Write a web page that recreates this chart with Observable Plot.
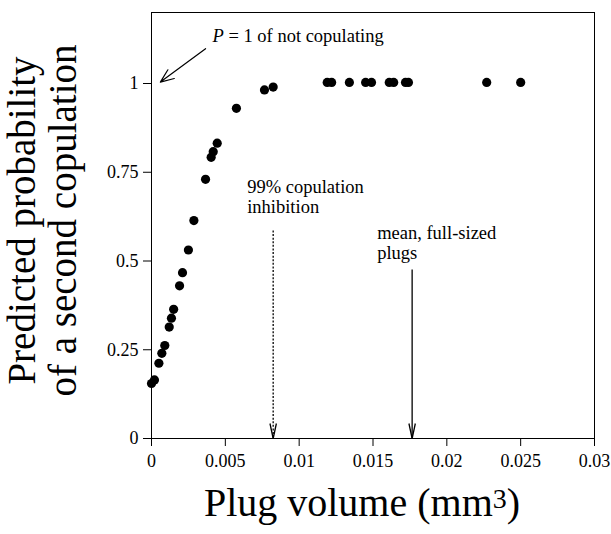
<!DOCTYPE html>
<html><head><meta charset="utf-8">
<script src="https://cdn.jsdelivr.net/npm/d3@7"></script>
<script src="https://cdn.jsdelivr.net/npm/@observablehq/plot@0.6"></script>
<style>
html,body{margin:0;padding:0;background:#fff}
svg{display:block}
svg text{font-family:"Liberation Serif",serif !important}
</style>
</head><body><div id="chart"></div>
<script>
// ---- data ----
const plugVolume = [0.0000, 0.0002, 0.0005, 0.0007, 0.0009, 0.0012, 0.00135, 0.0015, 0.0019, 0.0021,
  0.0025, 0.00287, 0.00366, 0.00404, 0.00418, 0.00445, 0.00575, 0.00765, 0.00824,
  0.0119, 0.0122, 0.0134, 0.0145, 0.0149, 0.0161, 0.0164, 0.0172, 0.0174, 0.0227, 0.0250];
const probability = [0.155, 0.165, 0.212, 0.240, 0.262, 0.314, 0.339, 0.364, 0.430, 0.467,
  0.531, 0.614, 0.730, 0.792, 0.808, 0.832, 0.930, 0.982, 0.990,
  1.003, 1.003, 1.003, 1.003, 1.003, 1.003, 1.003, 1.003, 1.003, 1.003, 1.003];

const xTicks = [0, 0.005, 0.01, 0.015, 0.02, 0.025, 0.03];
const xTickLabels = ["0", "0.005", "0.01", "0.015", "0.02", "0.025", "0.03"];
const yTicks = [0, 0.25, 0.5, 0.75, 1];
const yTickLabels = ["0", "0.25", "0.5", "0.75", "1"];

const xTitle = "Plug volume (mm³)";
const yTitle = "Predicted probability\nof a second copulation";

const noteTexts = ["P = 1 of not copulating", "99% copulation\ninhibition", "mean, full-sized\nplugs"];
const noteX = [0.00413, 0.00648, 0.01528];
const noteY = [1.116, 0.634, 0.507];

// diagonal arrow pointing at P = 1
const diagX1 = [0.00366], diagY1 = [1.098], diagX2 = [0.0006], diagY2 = [1.004];

// vertical arrows to the x axis
const vArrowX = [0.00824, 0.01765];
const vArrowTop = [0.586, 0.476];
const vArrowBottom = [0, 0];
const vArrowStyle = ["dotted", "solid"];

// ---- tables built from the arrays ----
const points = plugVolume.map((x, i) => ({x, y: probability[i]}));
const notes = noteTexts.map((t, i) => ({t, x: noteX[i], y: noteY[i]}));
const diag = diagX1.map((x, i) => ({x1: x, y1: diagY1[i], x2: diagX2[i], y2: diagY2[i]}));
const vArrows = vArrowX.map((x, i) => ({x, top: vArrowTop[i], bottom: vArrowBottom[i], style: vArrowStyle[i]}));

const vHead = {draw(ctx) { ctx.moveTo(-3.2, -15); ctx.lineTo(0, 0); ctx.lineTo(3.2, -15); }};
const serif = "Liberation Serif";

const chart = Plot.plot({
  width: 611, height: 534,
  marginLeft: 151, marginRight: 17, marginTop: 12, marginBottom: 96,
  style: {fontFamily: serif, fontSize: "18px", color: "black", background: "white"},
  x: {domain: [0, 0.03], ticks: xTicks, tickFormat: d => xTickLabels[xTicks.indexOf(d)], tickSize: 8, tickPadding: 8, label: null},
  y: {domain: [0, 1.2], ticks: yTicks, tickFormat: d => yTickLabels[yTicks.indexOf(d)], tickSize: 8, tickPadding: 5, label: null},
  marks: [
    Plot.frame({stroke: "black", strokeWidth: 1}),
    Plot.dot(points, {x: "x", y: "y", r: 4.6, fill: "black", stroke: "none"}),
    Plot.link(vArrows, {filter: d => d.style === "dotted", x1: "x", x2: "x", y1: "top", y2: "bottom", stroke: "black", strokeWidth: 1.3, strokeDasharray: "2,1.6"}),
    Plot.link(vArrows, {filter: d => d.style === "solid", x1: "x", x2: "x", y1: "top", y2: "bottom", stroke: "black", strokeWidth: 1.3}),
    Plot.dot(vArrows, {x: "x", y: "bottom", symbol: vHead, r: 4, fill: "none", stroke: "black", strokeWidth: 1.3}),
    Plot.arrow(diag, {x1: "x1", y1: "y1", x2: "x2", y2: "y2", stroke: "black", strokeWidth: 1.2, headAngle: 44, headLength: 18}),
    Plot.text(notes, {x: "x", y: "y", text: "t", textAnchor: "start", lineAnchor: "bottom", lineHeight: 1.08, fontSize: 18.5, fontFamily: serif, fill: "black"}),
    Plot.text([xTitle], {frameAnchor: "bottom", dx: -11, dy: 77, lineAnchor: "bottom", textAnchor: "middle", fontSize: 40, fontFamily: serif, fill: "black"}),
    Plot.text([yTitle], {frameAnchor: "left", rotate: -90, dx: -76, dy: -5, lineAnchor: "bottom", lineHeight: 1.03, textAnchor: "middle", fontSize: 39, fontFamily: serif, fill: "black"})
  ]
});
chart.setAttribute("font-family", serif);
document.getElementById("chart").appendChild(chart);

// typographic touches: italic P and raised 3
const NS = "http://www.w3.org/2000/svg";
chart.querySelectorAll("text").forEach(t => {
  if (t.textContent === noteTexts[0]) {
    const rest = t.textContent.slice(1);
    t.textContent = "";
    const p = document.createElementNS(NS, "tspan");
    p.setAttribute("font-style", "italic");
    p.textContent = "P";
    t.appendChild(p);
    t.appendChild(document.createTextNode(rest));
  } else if (t.textContent === xTitle) {
    t.textContent = "";
    t.appendChild(document.createTextNode("Plug volume (mm"));
    const s = document.createElementNS(NS, "tspan");
    s.setAttribute("font-size", "28");
    s.setAttribute("dy", "-8");
    s.textContent = "3";
    t.appendChild(s);
    const c = document.createElementNS(NS, "tspan");
    c.setAttribute("dy", "8");
    c.textContent = ")";
    t.appendChild(c);
  }
});
</script>
</body></html>
